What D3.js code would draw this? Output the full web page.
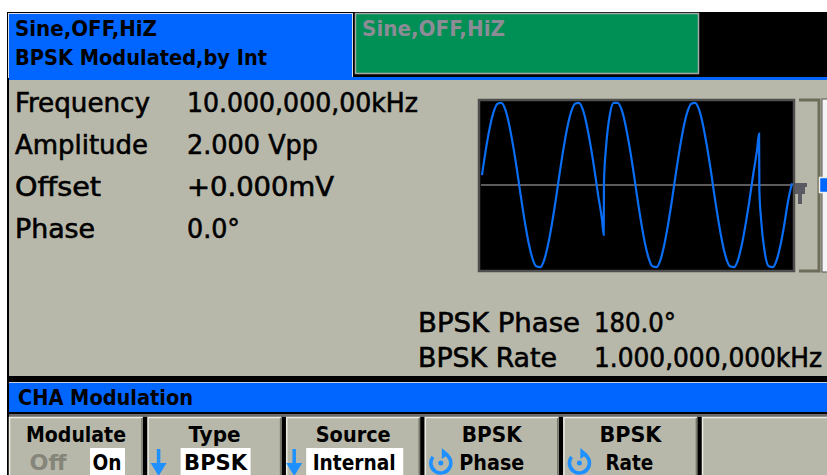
<!DOCTYPE html>
<html><head><meta charset="utf-8">
<script src="https://cdn.jsdelivr.net/npm/d3@7"></script>
<style>html,body{margin:0;padding:0;background:#fff;overflow:hidden}</style>
</head><body>
<svg id="c" width="827" height="475"></svg>
<script>
// ---------------- data ----------------
const headerLines = ["Sine,OFF,HiZ", "BPSK Modulated,by Int"];
const otherChannel = "Sine,OFF,HiZ";
const paramLabels = ["Frequency", "Amplitude", "Offset", "Phase"];
const paramValues = ["10.000,000,00kHz", "2.000 Vpp", "+0.000mV", "0.0°"];
const modLabels = ["BPSK Phase", "BPSK Rate"];
const modValues = ["180.0°", "1.000,000,000kHz"];
const menuTitle = "CHA Modulation";
const softkeyTop = ["Modulate", "Type", "Source", "BPSK", "BPSK", ""];
const softkeyBottom = ["On", "BPSK", "Internal", "Phase", "Rate", ""];
// waveform preview (time in µs, level in units of Vpk)
const waveTime = [0,5,10,15,20,25,30,35,40,45,50,55,60,65,70,75,80,85,90,95,100,105,110,115,120,125,130,135,140,145,150,155,157,157.4,
  160,165,170,175,180,185,190,195,200,205,210,215,220,225,230,235,240,245,250,255,260,265,270,275,280,285,290,295,300,305,310,315,320,325,330,335,340,345,350,355,357.5,357.9,
  360,365,370,375,380,385,390,395,400];
const waveLevel = [0.12,0.43,0.69,0.88,0.98,0.99,0.91,0.73,0.48,0.19,-0.13,-0.43,-0.69,-0.88,-0.98,-0.99,-0.91,-0.73,-0.48,-0.19,0.13,0.43,0.69,0.88,0.98,0.99,0.91,0.73,0.48,0.19,-0.13,-0.43,-0.60,0.04,
  0.45,0.85,0.99,0.99,0.91,0.73,0.48,0.19,-0.13,-0.43,-0.69,-0.88,-0.98,-0.99,-0.91,-0.73,-0.48,-0.19,0.13,0.43,0.69,0.88,0.98,0.99,0.91,0.73,0.48,0.19,-0.13,-0.43,-0.69,-0.88,-0.98,-0.99,-0.91,-0.73,-0.48,-0.19,0.13,0.43,0.62,-0.06,
  -0.40,-0.82,-0.98,-0.99,-0.91,-0.73,-0.48,-0.19,0.02];

// ---------------- drawing ----------------
const svg = d3.select("#c");
const GRAY = "#b8b8aa", BLUE = "#0066ff", GREEN = "#008f55", KEYBLUE = "#1e90ff";
const FONT = "'DejaVu Sans Condensed','DejaVu Sans',sans-serif";

svg.append("rect").attr("x", 7).attr("y", 12).attr("width", 820).attr("height", 463).attr("fill", "#000");

// header
svg.append("rect").attr("x", 8.5).attr("y", 13.5).attr("width", 344).attr("height", 64)
  .attr("fill", BLUE).attr("stroke", "#d8dce8").attr("stroke-width", 1);
svg.append("rect").attr("x", 355.5).attr("y", 13.5).attr("width", 343).attr("height", 60)
  .attr("fill", GREEN).attr("stroke", "#a8a8a8").attr("stroke-width", 1.5);
svg.append("rect").attr("x", 9).attr("y", 77).attr("width", 818).attr("height", 3).attr("fill", BLUE);

const hdrW = [142, 252];
svg.selectAll("text.hdr").data(headerLines).join("text").attr("class", "hdr")
  .attr("x", 15).attr("y", (d, i) => 36 + i * 29)
  .attr("textLength", (d, i) => hdrW[i]).attr("lengthAdjust", "spacingAndGlyphs")
  .attr("font-family", FONT).attr("font-weight", "bold").attr("font-size", 21).attr("fill", "#000").text(d => d);
svg.append("text").attr("x", 362).attr("y", 36).attr("textLength", 143).attr("lengthAdjust", "spacingAndGlyphs")
  .attr("font-family", FONT).attr("font-weight", "bold").attr("font-size", 21).attr("fill", "#8c8c96").text(otherChannel);

// main panel
svg.append("rect").attr("x", 9).attr("y", 80).attr("width", 818).attr("height", 296).attr("fill", GRAY);

function bigText(sel) {
  return sel.attr("font-family", FONT).attr("font-size", 26).attr("fill", "#000")
    .attr("stroke", "#000").attr("stroke-width", 0.55).attr("lengthAdjust", "spacingAndGlyphs");
}
const labW = [135, 133, 86, 80];
const valW = [231, 131, 147, 53];
const rowY = d3.scalePoint().domain(paramLabels).range([112, 238]);
bigText(svg.selectAll("text.lab").data(paramLabels).join("text").attr("class", "lab")
  .attr("x", 15).attr("y", d => rowY(d)).attr("textLength", (d, i) => labW[i])).text(d => d);
bigText(svg.selectAll("text.val").data(paramValues).join("text").attr("class", "val")
  .attr("x", 187).attr("y", (d, i) => rowY(paramLabels[i])).attr("textLength", (d, i) => valW[i])).text(d => d);

const mlabW = [162, 139];
const mvalW = [82, 228];
const modY = d3.scalePoint().domain(modLabels).range([332, 367]);
bigText(svg.selectAll("text.mlab").data(modLabels).join("text").attr("class", "mlab")
  .attr("x", 418).attr("y", d => modY(d)).attr("textLength", (d, i) => mlabW[i])).text(d => d);
bigText(svg.selectAll("text.mval").data(modValues).join("text").attr("class", "mval")
  .attr("x", 594).attr("y", (d, i) => modY(modLabels[i])).attr("textLength", (d, i) => mvalW[i])).text(d => d);

// waveform preview
svg.append("rect").attr("x", 479).attr("y", 100).attr("width", 315).attr("height", 171)
  .attr("fill", "#000").attr("stroke", "#4e4e4e").attr("stroke-width", 2.5);
const x = d3.scaleLinear().domain([0, 400]).range([482, 792]);
const y = d3.scaleLinear().domain([-1, 1]).range([268, 102]);
svg.append("line").attr("x1", 481).attr("x2", 793).attr("y1", y(0)).attr("y2", y(0))
  .attr("stroke", "#5c5c5c").attr("stroke-width", 2);
const pts = waveTime.map((t, i) => [t, waveLevel[i]]);
svg.append("path").datum(pts)
  .attr("d", d3.line().x(d => x(d[0])).y(d => y(d[1])).curve(d3.curveMonotoneX))
  .attr("fill", "none").attr("stroke", "#0a6ef5").attr("stroke-width", 2.2);

// level marker
svg.append("path").attr("d", "M795,183 h12 v4 h-2 v7 h-3 v10 h-4 v-10 h-3 z").attr("fill", "#5a5a62");

// right-hand scale bracket
svg.append("path").attr("d", "M799,100 H819 V271 H799").attr("fill", "none").attr("stroke", "#6c6c58").attr("stroke-width", 3);
svg.append("rect").attr("x", 822).attr("y", 99).attr("width", 6).attr("height", 173).attr("fill", "#f4f4f4").attr("stroke", "#505050").attr("stroke-width", 1);
svg.append("rect").attr("x", 819.5).attr("y", 177.5).attr("width", 9).attr("height", 15).attr("fill", BLUE).attr("stroke", "#f0f0f0").attr("stroke-width", 1.5);

// menu bar
svg.append("rect").attr("x", 9).attr("y", 382).attr("width", 818).attr("height", 1).attr("fill", "#c8d0e0");
svg.append("rect").attr("x", 9).attr("y", 383).attr("width", 818).attr("height", 29).attr("fill", BLUE);
svg.append("text").attr("x", 18).attr("y", 405).attr("textLength", 175).attr("lengthAdjust", "spacingAndGlyphs")
  .attr("font-family", FONT).attr("font-weight", "bold").attr("font-size", 21).attr("fill", "#000").text(menuTitle);
svg.append("rect").attr("x", 9).attr("y", 414).attr("width", 818).attr("height", 3).attr("fill", "#6a6a6a");

// softkeys
const keyX = d3.range(6).map(i => 9 + i * 138.6);
const keys = svg.selectAll("g.key").data(softkeyTop).join("g").attr("class", "key")
  .attr("transform", (d, i) => `translate(${keyX[i]},417)`);
keys.append("rect").attr("x", 0).attr("y", 0).attr("width", (d, i) => i === 5 ? 130 : 134).attr("height", 60).attr("fill", GRAY);
keys.append("path").attr("d", (d, i) => `M0.5,60 V0.5 H${i === 5 ? 130 : 133.5}`).attr("fill", "none").attr("stroke", "#ececE4").attr("stroke-width", 1.5);
keys.append("line").attr("x1", 133).attr("x2", 133).attr("y1", 1).attr("y2", 60).attr("stroke", "#77776c").attr("stroke-width", 1.5)
  .attr("display", (d, i) => i === 5 ? "none" : null);
const topW = [100, 52, 75, 60, 62, 0];
keys.append("text").attr("x", 67).attr("y", 25).attr("text-anchor", "middle")
  .attr("textLength", (d, i) => topW[i] || null).attr("lengthAdjust", "spacingAndGlyphs")
  .attr("font-family", FONT).attr("font-weight", "bold").attr("font-size", 22).attr("fill", "#000").text(d => d);

// second line: boxes / labels
const boxes = [[81, 35], [33, 70], [20, 97], null, null, null];
keys.each(function (d, i) {
  const g = d3.select(this);
  const b = boxes[i];
  if (b) g.append("rect").attr("x", b[0]).attr("y", 31).attr("width", b[1]).attr("height", 30).attr("fill", "#fff");
});
const botX = [107 - 9, 215 - 147, 353 - 285, 491 - 424, 629 - 563, 0];
const botW = [29, 63, 83, 65, 48, 0];
keys.append("text").attr("x", (d, i) => botX[i]).attr("y", 53).attr("text-anchor", "middle")
  .attr("textLength", (d, i) => botW[i] || null).attr("lengthAdjust", "spacingAndGlyphs")
  .attr("font-family", FONT).attr("font-weight", "bold").attr("font-size", 22).attr("fill", "#000")
  .text((d, i) => softkeyBottom[i]);
// "Off" (inactive)
svg.append("text").attr("x", 48).attr("y", 470).attr("text-anchor", "middle").attr("textLength", 37).attr("lengthAdjust", "spacingAndGlyphs")
  .attr("font-family", FONT).attr("font-weight", "bold").attr("font-size", 22).attr("fill", "#85857a").text("Off");

// down arrows for list keys
[1, 2].forEach(i => {
  const g = svg.append("g").attr("transform", `translate(${keyX[i] + (i === 1 ? 11 : 8)},0)`);
  g.append("line").attr("x1", 0).attr("x2", 0).attr("y1", 449).attr("y2", 472).attr("stroke", KEYBLUE).attr("stroke-width", 3.5);
  g.append("path").attr("d", "M-8,463 L0,476 L8,463 Z").attr("fill", KEYBLUE);
});
// knob icons for numeric keys
[3, 4].forEach(i => {
  const cx = keyX[i] + 16, cy = 463, r = 10;
  const g = svg.append("g").attr("transform", `translate(${cx},${cy})`);
  const arc = d3.arc().innerRadius(r - 1.8).outerRadius(r + 1.8).startAngle(0.35).endAngle(2 * Math.PI - 0.9);
  g.append("path").attr("d", arc()).attr("fill", KEYBLUE);
  g.append("path").attr("d", "M1,-15 L8,-9 L1,-4 Z").attr("fill", KEYBLUE);
  g.append("circle").attr("r", 2.5).attr("fill", KEYBLUE);
});
</script></body></html>
